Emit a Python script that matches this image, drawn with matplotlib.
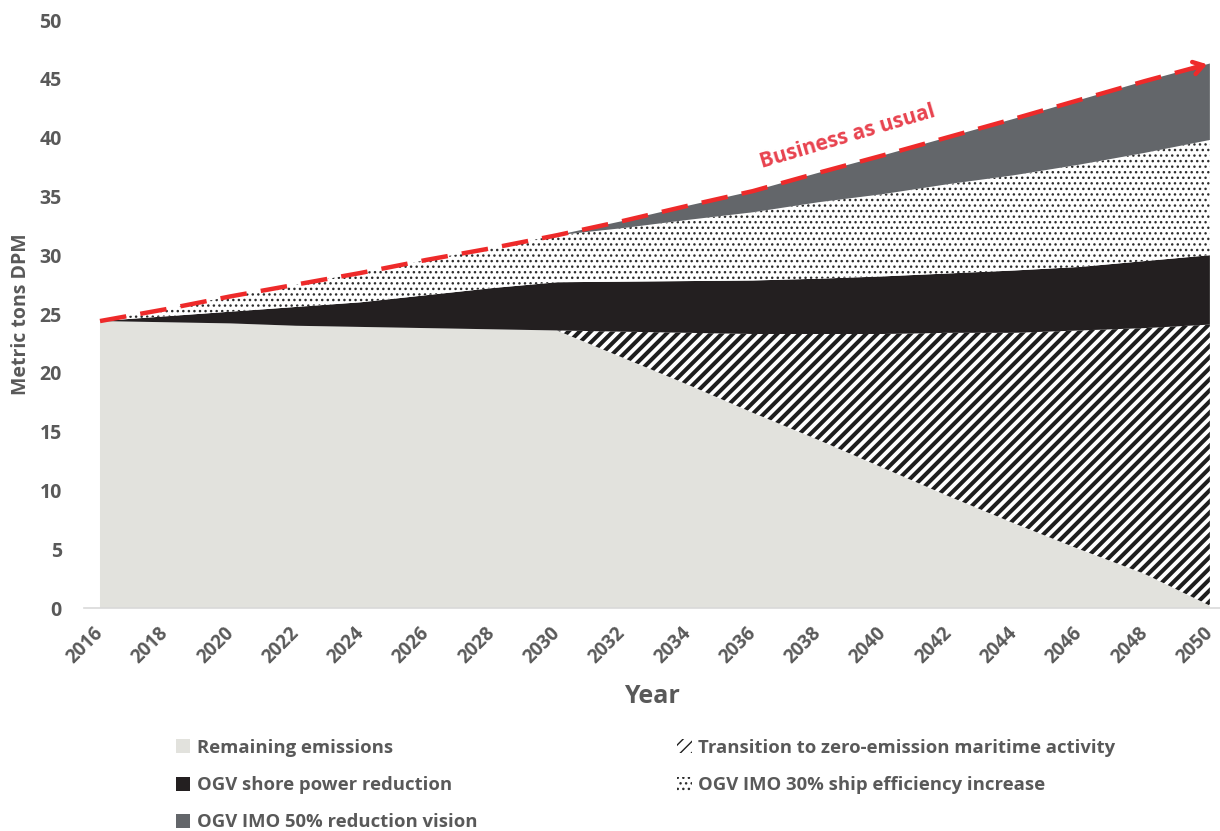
import matplotlib.pyplot as plt
import numpy as np

# values (metric tons DPM)
years = [2016, 2018, 2020, 2022, 2024, 2026, 2028, 2030, 2032, 2034,
         2036, 2038, 2040, 2042, 2044, 2046, 2048, 2050]
remaining = [24.4, 24.3, 24.2, 24.0, 23.9, 23.8, 23.7, 23.6, 21.3, 19.0,
             16.6, 14.3, 11.9, 9.5, 7.2, 5.0, 2.9, 0.2]
transition = [0, 0, 0, 0, 0, 0, 0, 0, 2.2, 4.4,
              6.7, 9.0, 11.4, 13.9, 16.2, 18.6, 20.9, 23.9]
shore_power = [0, 0.5, 1.0, 1.6, 2.1, 2.8, 3.5, 4.1, 4.25, 4.4,
               4.55, 4.7, 4.9, 5.05, 5.3, 5.4, 5.7, 5.9]
imo30 = [0, 0.6, 1.3, 1.9, 2.5, 3.0, 3.4, 4.0, 4.55, 5.2,
         5.8, 6.5, 7.0, 7.6, 8.1, 8.7, 9.2, 9.8]
imo50 = [0, 0, 0, 0, 0, 0, 0, 0, 0.6, 1.2,
         1.8, 2.5, 3.3, 4.0, 4.8, 5.5, 6.1, 6.5]

labels = ['Remaining emissions',
          'Transition to zero-emission maritime activity',
          'OGV shore power reduction',
          'OGV IMO 30% ship efficiency increase',
          'OGV IMO 50% reduction vision']

plt.rcParams['font.family'] = ['Open Sans', 'DejaVu Sans']
txt = '#595959'

fig = plt.figure(figsize=(12.2, 8.31), dpi=100)
ax = fig.add_axes([84/1220, 223/831, 1136/1220, 588/831])

x = np.array(years)
layers = [remaining, transition, shore_power, imo30, imo50]
styles = [
    dict(facecolor='#e2e2dd', edgecolor='none', hatch=None, hlw=1.0),
    dict(facecolor='white', edgecolor='#1e1e1e', hatch='///', hlw=2.9),
    dict(facecolor='#231f20', edgecolor='none', hatch=None, hlw=1.0),
    dict(facecolor='white', edgecolor='#2e2e2e', hatch='...', hlw=1.0),
    dict(facecolor='#63666a', edgecolor='none', hatch=None, hlw=1.0),
]

handles = []
base = np.zeros(len(x))
for vals, st, lab in zip(layers, styles, labels):
    top = base + np.array(vals)
    with plt.rc_context({'hatch.linewidth': st['hlw']}):
        poly = ax.fill_between(x, base, top, facecolor=st['facecolor'],
                               edgecolor=st['edgecolor'], hatch=st['hatch'],
                               linewidth=0, label=lab)
    handles.append(poly)
    base = top

# business as usual line
bau = base
ax.plot(x, bau, color='#ee2a2a', lw=3.2, dashes=(6, 3.2), solid_capstyle='butt')
ax.annotate('', xy=(x[-1], bau[-1]), xytext=(x[-1] - 0.6, bau[-1] - 0.47),
            arrowprops=dict(arrowstyle='->,head_length=0.7,head_width=0.45',
                            color='#ee2a2a', lw=3.2))
ax.text(2038.9, 40.1, 'Business as usual', color='#e8434f', fontsize=15,
        fontweight='bold', rotation=16.5, ha='center', va='center')

ax.set_xlim(2015.51, 2050.31)
ax.set_ylim(0, 50)
ax.set_xticks(years)
ax.set_xticklabels([str(y) for y in years], rotation=45, ha='right',
                   va='center', rotation_mode='anchor', fontsize=13.5,
                   fontweight='bold', color=txt)
ax.set_yticks(np.arange(0, 51, 5))
ax.set_yticklabels([str(v) for v in range(0, 51, 5)], fontsize=14,
                   fontweight='bold', color=txt)
ax.tick_params(length=0)
ax.tick_params(axis='y', pad=16)
ax.tick_params(axis='x', pad=16)
for s in ['top', 'right', 'left']:
    ax.spines[s].set_visible(False)
ax.spines['bottom'].set_color('#d9d9d9')
ax.spines['bottom'].set_linewidth(1.2)

ax.set_xlabel('Year', fontsize=18, fontweight='bold', color=txt, labelpad=12)
ax.set_ylabel('Metric tons DPM', fontsize=14, fontweight='bold', color=txt,
              labelpad=6)

order = [0, 2, 4, 1, 3]
leg = fig.legend([handles[i] for i in order], [labels[i] for i in order],
                 ncol=2, loc='upper left', bbox_to_anchor=(159/1220, 1 - 722/831),
                 frameon=False, fontsize=13.3, handlelength=0.8, handleheight=0.8,
                 handletextpad=0.35, columnspacing=10.8, labelspacing=1.05)
for t in leg.get_texts():
    t.set_color(txt)
    t.set_fontweight('bold')

fig.savefig('out.png', dpi=100)
